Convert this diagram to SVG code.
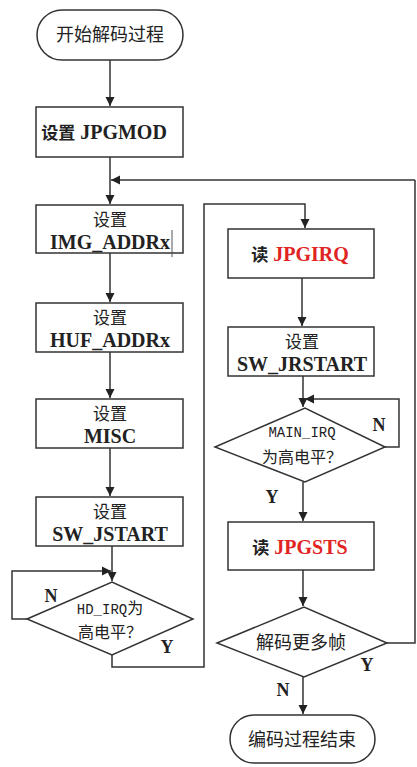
<svg xmlns="http://www.w3.org/2000/svg" width="417" height="767" viewBox="0 0 417 767">
<defs>
<marker id="ah" viewBox="0 0 10 10" refX="10" refY="5" markerWidth="9" markerHeight="11" markerUnits="userSpaceOnUse" orient="auto">
<path d="M0,0 L10,5 L0,10 z" fill="#222"/>
</marker>
<style>
.box{fill:#fff;stroke:#333;stroke-width:1.5}
.ln{fill:none;stroke:#333;stroke-width:1.5}
.cn{font-family:"Noto Sans CJK SC","Noto Sans CJK JP",sans-serif;font-size:17px;fill:#222;text-anchor:middle}
.en{font-family:"Liberation Serif",serif;font-weight:bold;font-size:20px;fill:#222;text-anchor:middle}
.mono{font-family:"Liberation Mono","DejaVu Sans Mono",monospace;font-size:14px;fill:#222;text-anchor:middle}
.red{fill:#e02424}
.lab{font-family:"Liberation Serif",serif;font-weight:bold;font-size:18px;fill:#222;text-anchor:middle}
</style>
</defs>
<rect width="417" height="767" fill="#fff"/>
<g id="connectors">
<path class="ln" d="M110,60 V106" marker-end="url(#ah)"/>
<path class="ln" d="M110,157 V204" marker-end="url(#ah)"/>
<path class="ln" d="M415,180 H111" marker-end="url(#ah)"/>
<path class="ln" d="M110,253 V302" marker-end="url(#ah)"/>
<path class="ln" d="M110,352 V398" marker-end="url(#ah)"/>
<path class="ln" d="M110,448 V496" marker-end="url(#ah)"/>
<path class="ln" d="M112,546 V581" marker-end="url(#ah)"/>
<path class="ln" d="M27,619 H12 V571 H111" marker-end="url(#ah)"/>
<path class="ln" d="M112,655 V667 H204 V204 H305 V228" marker-end="url(#ah)"/>
<path class="ln" d="M302,278 V326" marker-end="url(#ah)"/>
<path class="ln" d="M303,376 V407" marker-end="url(#ah)"/>
<path class="ln" d="M385,447 H399 V399 H305" marker-end="url(#ah)"/>
<path class="ln" d="M303,482 V521" marker-end="url(#ah)"/>
<path class="ln" d="M303,570 V606" marker-end="url(#ah)"/>
<path class="ln" d="M387,643 H415 V180"/>
<path class="ln" d="M303,677 V714" marker-end="url(#ah)"/>
</g>
<g id="start">
<rect class="box" x="37" y="10" width="146" height="50" rx="25"/>
<text class="cn" x="110" y="41" style="font-size:18px">开始解码过程</text>
</g>
<g id="jpgmod">
<rect class="box" x="36" y="107" width="147" height="50"/>
<text class="en" x="104" y="139"><tspan class="cn" style="font-size:17px">设置</tspan> JPGMOD</text>
</g>
<g id="imgaddr">
<rect class="box" x="36" y="205" width="147" height="48"/>
<text class="cn" x="110" y="226">设置</text>
<text class="en" x="110" y="249">IMG_ADDRx</text>
<line x1="172" y1="230" x2="172" y2="257" stroke="#555" stroke-width="1"/>
</g>
<g id="hufaddr">
<rect class="box" x="36" y="303" width="147" height="49"/>
<text class="cn" x="110" y="324">设置</text>
<text class="en" x="110" y="347">HUF_ADDRx</text>
</g>
<g id="misc">
<rect class="box" x="36" y="399" width="147" height="49"/>
<text class="cn" x="110" y="420">设置</text>
<text class="en" x="110" y="443">MISC</text>
</g>
<g id="swjstart">
<rect class="box" x="36" y="497" width="147" height="49"/>
<text class="cn" x="110" y="518">设置</text>
<text class="en" x="110" y="541">SW_JSTART</text>
</g>
<g id="hdirq">
<path class="box" d="M27,619 L112,582 L193,619 L112,655 Z"/>
<text class="mono" x="110" y="614">HD_IRQ<tspan class="cn" style="font-size:16px">为</tspan></text>
<text class="cn" x="110" y="638" style="font-size:16px">高电平？</text>
<text class="lab" x="51" y="602">N</text>
<text class="lab" x="167" y="653">Y</text>
</g>
<g id="jpgirq">
<rect class="box" x="228" y="229" width="146" height="49"/>
<text class="en" x="300" y="261"><tspan class="cn" style="font-size:17px">读</tspan> <tspan class="red">JPGIRQ</tspan></text>
</g>
<g id="swjrstart">
<rect class="box" x="228" y="327" width="146" height="49"/>
<text class="cn" x="302" y="348">设置</text>
<text class="en" x="302" y="371">SW_JRSTART</text>
</g>
<g id="mainirq">
<path class="box" d="M215,447 L305,408 L385,447 L305,482 Z"/>
<text class="mono" x="302" y="437">MAIN_IRQ</text>
<text class="cn" x="302" y="463" style="font-size:16px">为高电平？</text>
<text class="lab" x="379" y="431">N</text>
<text class="lab" x="272" y="503">Y</text>
</g>
<g id="jpgsts">
<rect class="box" x="228" y="522" width="146" height="48"/>
<text class="en" x="300" y="554"><tspan class="cn" style="font-size:17px">读</tspan> <tspan class="red">JPGSTS</tspan></text>
</g>
<g id="more">
<path class="box" d="M217,643 L304,607 L387,643 L304,677 Z"/>
<text class="cn" x="301" y="649" style="font-size:18px">解码更多帧</text>
<text class="lab" x="367" y="671">Y</text>
<text class="lab" x="283" y="696">N</text>
</g>
<g id="end">
<rect class="box" x="230" y="715" width="145" height="48" rx="24"/>
<text class="cn" x="302" y="746" style="font-size:18px">编码过程结束</text>
</g>
</svg>
